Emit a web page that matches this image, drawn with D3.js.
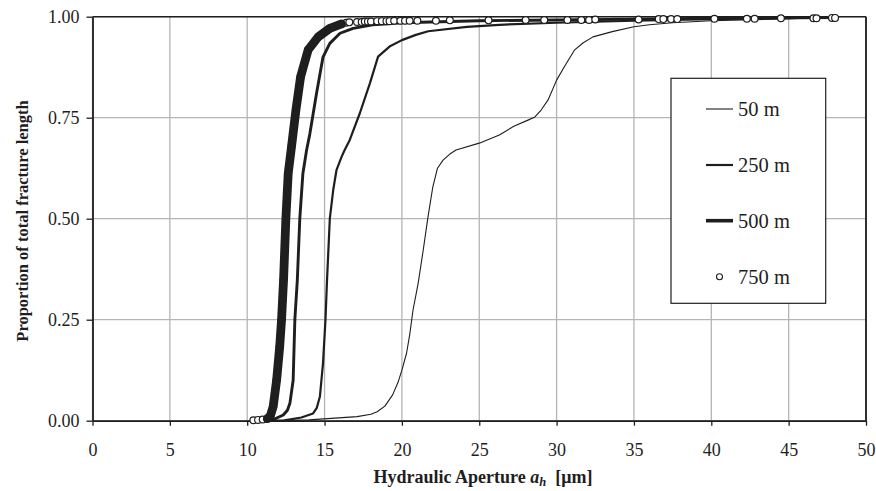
<!DOCTYPE html>
<html>
<head>
<meta charset="utf-8">
<script src="https://cdn.jsdelivr.net/npm/d3@7/dist/d3.min.js"></script>
<style>
	body { margin: 0; background: #ffffff; }
	svg { display: block; font-family: "Liberation Serif", "Times New Roman", serif; }
</style>
</head>
<body>
<svg id="chart" width="876" height="491"></svg>
<script>
// tick values
var apertureTicks = [0, 5, 10, 15, 20, 25, 30, 35, 40, 45, 50];
var proportionTicks = [0, 0.25, 0.5, 0.75, 1];

var seriesNames = ["50 m", "250 m", "500 m", "750 m"];

// [hydraulic aperture (um), proportion of total fracture length]
var depth50 = [[11.5, 0], [14, 0.002], [17.1, 0.01], [18.0, 0.016], [18.4, 0.022], [18.9, 0.036],
	[19.4, 0.064], [19.75, 0.095], [20.0, 0.125], [20.3, 0.167], [20.5, 0.212], [20.72, 0.274],
	[21.05, 0.34], [21.37, 0.42], [21.69, 0.505], [22.0, 0.579], [22.3, 0.625], [22.66, 0.645],
	[23.1, 0.66], [23.5, 0.67], [25.0, 0.687], [26.3, 0.707], [27.2, 0.728], [28.15, 0.744],
	[28.6, 0.752], [29.0, 0.769], [29.45, 0.794], [30.0, 0.843], [30.5, 0.876], [31.17, 0.918],
	[31.7, 0.935], [32.35, 0.95], [33.6, 0.963], [35.0, 0.975], [36.0, 0.98], [37.5, 0.985],
	[40, 0.99], [45, 0.995], [48, 0.998]];

var depth250 = [[11.5, 0], [12.4, 0.001], [13.5, 0.008], [14.26, 0.018], [14.5, 0.032], [14.7, 0.06],
	[14.9, 0.142], [15.06, 0.25], [15.16, 0.348], [15.34, 0.5], [15.56, 0.571], [15.77, 0.62],
	[16.1, 0.653], [16.3, 0.67], [16.63, 0.695], [17.28, 0.761], [17.93, 0.835], [18.46, 0.901],
	[19.2, 0.926], [20, 0.942], [20.9, 0.955], [21.7, 0.964], [24.2, 0.975], [26.3, 0.98],
	[30, 0.985], [35, 0.99], [40, 0.994], [48, 0.998]];

var depth500 = [[11.5, 0], [11.7, 0.003], [12.33, 0.014], [12.6, 0.026], [12.76, 0.043], [12.97, 0.1],
	[13.08, 0.25], [13.24, 0.348], [13.4, 0.5], [13.6, 0.612], [13.84, 0.67], [14.05, 0.71],
	[14.48, 0.81], [14.9, 0.9], [15.34, 0.934], [16.0, 0.959], [16.85, 0.971], [18.1, 0.98],
	[20, 0.985], [25, 0.99], [30, 0.992], [35, 0.994], [40, 0.996], [48, 0.998]];

var depth750 = [[10.4, 0.001], [10.7, 0.002], [11.0, 0.003], [11.3, 0.005], [11.5, 0.012], [11.68, 0.035],
	[11.9, 0.1], [12.1, 0.183], [12.22, 0.25], [12.35, 0.348], [12.5, 0.5], [12.65, 0.612],
	[12.87, 0.68], [13.15, 0.769], [13.45, 0.851], [13.94, 0.918], [14.59, 0.95], [15.34, 0.971],
	[16.1, 0.982], [16.4, 0.985], [16.6, 0.986], [17.1, 0.987], [17.4, 0.987], [17.6, 0.988],
	[17.8, 0.988], [18.0, 0.988], [18.4, 0.989], [18.7, 0.989], [19.0, 0.989], [19.2, 0.989],
	[19.5, 0.99], [19.9, 0.99], [20.2, 0.99], [20.5, 0.99], [21.0, 0.99], [22.2, 0.99],
	[23.1, 0.991], [25.6, 0.991], [28.0, 0.992], [29.2, 0.992], [30.7, 0.992], [31.6, 0.992],
	[32.1, 0.992], [32.5, 0.993], [35.3, 0.993], [36.6, 0.994], [36.9, 0.994], [37.4, 0.994],
	[37.8, 0.994], [40.2, 0.995], [42.3, 0.995], [42.8, 0.995], [44.5, 0.996], [46.6, 0.996],
	[46.8, 0.996], [47.8, 0.997], [48.0, 0.997]];

var svg = d3.select("#chart");
var ink = "#1e1e1e";

var x = d3.scaleLinear().domain([0, 50]).range([92.5, 866]);
var y = d3.scaleLinear().domain([0, 1]).range([420.7, 16.7]);

// grid
var grid = svg.append("g").attr("stroke", "#b5b5b5").attr("stroke-width", 1.3);
grid.selectAll("line.gx").data(apertureTicks).enter().append("line")
	.attr("x1", function(d) { return x(d); }).attr("x2", function(d) { return x(d); })
	.attr("y1", y(0)).attr("y2", y(1));
grid.selectAll("line.gy").data(proportionTicks).enter().append("line")
	.attr("x1", x(0)).attr("x2", x(50))
	.attr("y1", function(d) { return y(d); }).attr("y2", function(d) { return y(d); });

// axes
var xAxis = svg.append("g").attr("transform", "translate(0," + y(0) + ")")
	.call(d3.axisBottom(x).tickValues(apertureTicks).tickFormat(d3.format("d")).tickSize(5).tickPadding(18).tickSizeOuter(0));
var yAxis = svg.append("g").attr("transform", "translate(" + x(0) + ",0)")
	.call(d3.axisLeft(y).tickValues(proportionTicks).tickFormat(d3.format(".2f")).tickSize(6).tickPadding(7).tickSizeOuter(0));

[xAxis, yAxis].forEach(function(a)
{
	a.select(".domain").attr("stroke", ink).attr("stroke-width", 1.8);
	a.selectAll(".tick line").attr("stroke", ink).attr("stroke-width", 1.3);
	a.selectAll(".tick text").attr("fill", ink).style("font-family", "'Liberation Serif', serif").style("font-size", "18px");
});

// frame top / right
svg.append("line").attr("x1", x(0)).attr("x2", x(50)).attr("y1", y(1)).attr("y2", y(1))
	.attr("stroke", ink).attr("stroke-width", 1.6);
svg.append("line").attr("x1", x(50)).attr("x2", x(50)).attr("y1", y(1)).attr("y2", y(0))
	.attr("stroke", ink).attr("stroke-width", 1.8);

var line = d3.line().x(function(d) { return x(d[0]); }).y(function(d) { return y(d[1]); });

var curves = [
	{ data: depth50, width: 1.1 },
	{ data: depth250, width: 2.2 },
	{ data: depth500, width: 2.9 }
];
svg.selectAll("path.curve").data(curves).enter().append("path")
	.attr("class", "curve")
	.attr("d", function(d) { return line(d.data); })
	.attr("fill", "none").attr("stroke", ink)
	.attr("stroke-linejoin", "round")
	.attr("stroke-width", function(d) { return d.width; });

// 750 m markers
svg.selectAll("circle.m750").data(depth750).enter().append("circle")
	.attr("class", "m750")
	.attr("cx", function(d) { return x(d[0]); })
	.attr("cy", function(d) { return y(d[1]); })
	.attr("r", 3.4)
	.attr("fill", "#ffffff").attr("stroke", ink).attr("stroke-width", 1.2);

// the dense run of markers prints as a solid band
var dense = depth750.filter(function(d) { return d[1] >= 0.005 && d[1] <= 0.982; });
svg.append("path").attr("d", line(dense))
	.attr("fill", "none").attr("stroke", ink).attr("stroke-width", 8.8)
	.attr("stroke-linejoin", "round").attr("stroke-linecap", "round");

// legend
var legend = svg.append("g");
legend.append("rect").attr("x", 671).attr("y", 78.3).attr("width", 154.7).attr("height", 225)
	.attr("fill", "#ffffff").attr("stroke", ink).attr("stroke-width", 1.2);

var legendRows = [109, 165, 220.7, 276.7];
var legendWidths = [1.1, 2.2, 3.6, 0];
seriesNames.forEach(function(name, i)
{
	var ly = legendRows[i];
	if (legendWidths[i] > 0)
	{
		legend.append("line").attr("x1", 706).attr("x2", 733).attr("y1", ly).attr("y2", ly)
			.attr("stroke", ink).attr("stroke-width", legendWidths[i]);
	}
	else
	{
		legend.append("circle").attr("cx", 719.5).attr("cy", ly).attr("r", 3)
			.attr("fill", "#ffffff").attr("stroke", ink).attr("stroke-width", 1.1);
	}
	legend.append("text").attr("x", 738).attr("y", ly).attr("dy", "0.35em")
		.attr("fill", ink).style("font-size", "20.5px").text(name);
});

// axis titles
svg.append("text")
	.attr("transform", "translate(22,221) rotate(-90)")
	.attr("text-anchor", "middle").attr("dy", "0.35em")
	.attr("fill", ink).style("font-weight", "bold").style("font-size", "16.5px")
	.text("Proportion of total fracture length");

var xt = svg.append("text").attr("x", 483).attr("y", 483).attr("text-anchor", "middle")
	.attr("fill", ink).style("font-weight", "bold").style("font-size", "18px");
xt.append("tspan").text("Hydraulic Aperture ");
xt.append("tspan").style("font-style", "italic").text("a");
xt.append("tspan").style("font-style", "italic").style("font-size", "12.5px").attr("dy", 2.5).text("h");
xt.append("tspan").attr("dy", -2.5).text("\u00a0 [\u03bcm]");
</script>
</body>
</html>
